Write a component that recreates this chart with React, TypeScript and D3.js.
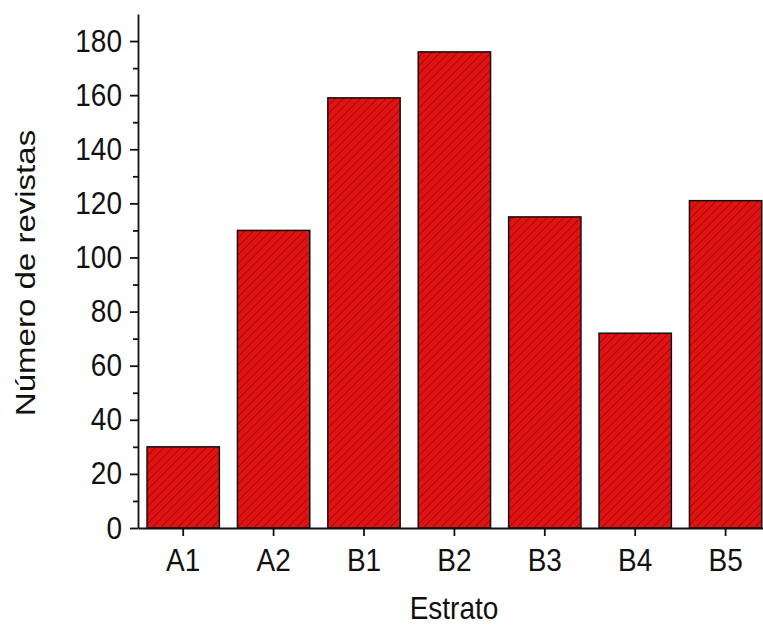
import React, { useEffect, useRef } from "react";
import * as d3 from "d3";

const categories = ["A1", "A2", "B1", "B2", "B3", "B4", "B5"];
const values = [30, 110, 159, 176, 115, 72, 121];
const yTicks = [0, 20, 40, 60, 80, 100, 120, 140, 160, 180];
const yMinorTicks = [10, 30, 50, 70, 90, 110, 130, 150, 170];

const App = () => {
  const ref = useRef<SVGSVGElement>(null);
  const width = 763,
    height = 626;
  const margin = { left: 138, top: 14, bottom: 98 };

  useEffect(() => {
    const svg = d3.select(ref.current);
    svg.selectAll("*").remove();

    const defs = svg.append("defs");
    const pat = defs
      .append("pattern")
      .attr("id", "hatch")
      .attr("patternUnits", "userSpaceOnUse")
      .attr("width", 6)
      .attr("height", 6)
      .attr("patternTransform", "rotate(45)");
    pat.append("rect").attr("width", 6).attr("height", 6).attr("fill", "#e31212");
    pat
      .append("line")
      .attr("x1", 0)
      .attr("y1", 0)
      .attr("x2", 0)
      .attr("y2", 6)
      .attr("stroke", "#8a0c0c")
      .attr("stroke-width", 1.6);

    const x = d3
      .scaleBand()
      .domain(categories)
      .range([margin.left, margin.left + 7 * 90.4])
      .paddingInner(0.2)
      .paddingOuter(0.1);

    const y = d3
      .scaleLinear()
      .domain([0, 190])
      .range([height - margin.bottom, margin.top]);

    const g = svg.append("g");

    g.selectAll("rect.bar")
      .data(values)
      .enter()
      .append("rect")
      .attr("class", "bar")
      .attr("x", (d, i) => x(categories[i])!)
      .attr("y", (d) => y(d))
      .attr("width", x.bandwidth())
      .attr("height", (d) => y(0) - y(d))
      .attr("fill", "url(#hatch)")
      .attr("stroke", "#111")
      .attr("stroke-width", 1.5);

    const fontFamily = "Liberation Sans, Arial, sans-serif";

    const yAxis = g
      .append("g")
      .attr("transform", `translate(${margin.left},0)`)
      .call(
        d3
          .axisLeft(y)
          .tickValues(yTicks)
          .tickSize(8)
          .tickPadding(8)
          .tickSizeOuter(0)
      );
    yAxis
      .selectAll("text")
      .style("font-size", "28px")
      .style("font-family", fontFamily)
      .attr("fill", "#111")
      .attr("transform", "scale(1,1.12)");
    yAxis.selectAll("line, path").attr("stroke", "#111").attr("stroke-width", 1.8);

    const yMinor = g
      .append("g")
      .attr("transform", `translate(${margin.left},0)`)
      .call(d3.axisLeft(y).tickValues(yMinorTicks).tickSize(5).tickFormat(() => ""));
    yMinor.select("path").remove();
    yMinor.selectAll("line").attr("stroke", "#111").attr("stroke-width", 1.8);

    const xAxis = g
      .append("g")
      .attr("transform", `translate(0,${y(0)})`)
      .call(d3.axisBottom(x).tickSize(8).tickPadding(8).tickSizeOuter(0));
    xAxis
      .selectAll("text")
      .style("font-size", "28px")
      .style("font-family", fontFamily)
      .attr("fill", "#111")
      .attr("y", 0)
      .attr("transform", "translate(0,20) scale(1,1.15)");
    xAxis.selectAll("line, path").attr("stroke", "#111").attr("stroke-width", 1.8);

    svg
      .append("text")
      .attr("transform", "translate(454,619) scale(1,1.12)")
      .attr("text-anchor", "middle")
      .style("font-size", "28px")
      .style("font-family", fontFamily)
      .attr("fill", "#111")
      .text("Estrato");

    svg
      .append("text")
      .attr("transform", "translate(35,273) rotate(-90) scale(1.18,1)")
      .attr("text-anchor", "middle")
      .style("font-size", "28px")
      .style("font-family", fontFamily)
      .attr("fill", "#111")
      .text("Número de revistas");
  }, []);

  return (
    <div style={{ position: "absolute", left: 0, top: 0 }}>
      <svg ref={ref} width={width} height={height}></svg>
    </div>
  );
};

export default App;
